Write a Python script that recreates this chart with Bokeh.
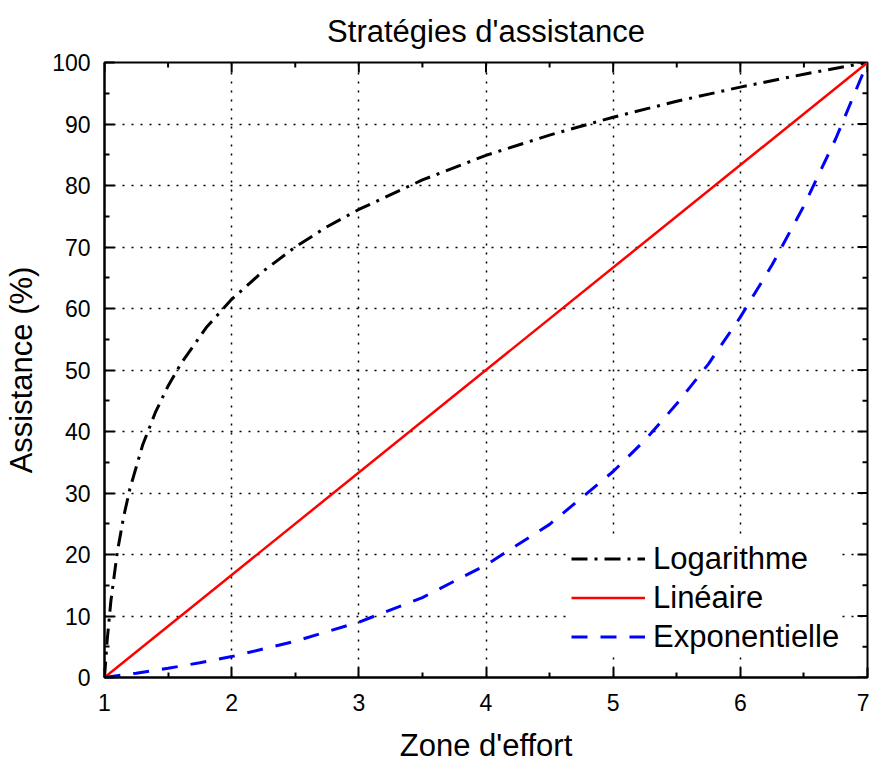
import math
from bokeh.plotting import figure
from bokeh.models import Range1d, FixedTicker, Legend, LegendItem
from bokeh.embed import file_html
from bokeh.resources import INLINE

# Data
log_x = [1.0, 1.02, 1.05, 1.1, 1.15, 1.2, 1.3, 1.4, 1.5, 1.6, 1.8, 2.0, 2.25, 2.5, 2.75,
         3.0, 3.5, 4.0, 4.5, 5.0, 5.5, 6.0, 6.5, 7.0]
log_y = [0.0, 5.8, 12.4, 20.3, 26.1, 30.7, 37.8, 43.1, 47.4, 51.0, 56.9, 61.5, 66.1, 70.0, 73.3,
         76.1, 80.9, 84.9, 88.2, 91.1, 93.7, 96.0, 98.1, 100.0]
lin_x = [1.0, 7.0]
lin_y = [0.0, 100.0]
exp_x = [1.0, 1.25, 1.5, 1.75, 2.0, 2.5, 3.0, 3.5, 4.0, 4.5, 5.0, 5.25, 5.5, 5.75, 6.0, 6.25, 6.5, 6.75, 7.0]
exp_y = [0.0, 0.7, 1.5, 2.4, 3.4, 5.9, 9.0, 13.0, 18.3, 24.9, 33.5, 38.6, 44.5, 51.0, 58.6, 67.1, 76.7, 87.6, 100.0]

x_ticks = [1, 2, 3, 4, 5, 6, 7]
x_minor = [1.5, 2.5, 3.5, 4.5, 5.5, 6.5]
y_ticks = [0, 10, 20, 30, 40, 50, 60, 70, 80, 90, 100]
y_minor = [5, 15, 25, 35, 45, 55, 65, 75, 85, 95]

title_txt = "Stratégies d'assistance"
x_title = "Zone d'effort"
y_title = "Assistance (%)"
labels = ["Logarithme", "Linéaire", "Exponentielle"]

FONT = "Liberation Sans"
BIG = "31px"

x_lo, x_hi = x_ticks[0], x_ticks[-1]
y_lo, y_hi = y_ticks[0], y_ticks[-1]

p = figure(width=869, height=765, output_backend="svg", toolbar_location=None,
           x_range=Range1d(x_lo, x_hi), y_range=Range1d(y_lo, y_hi),
           min_border_left=104, min_border_right=2, min_border_top=62, min_border_bottom=86,
           title=title_txt)
p.title.align = "center"
p.title.vertical_align = "top"
p.title.text_font = FONT
p.title.text_font_size = BIG
p.title.text_font_style = "normal"
p.title.text_color = "black"
p.title.standoff = 23
p.outline_line_color = "black"
p.outline_line_width = 2
p.outline_line_alpha = 1

def style_axis(ax, ticks, minor):
    ax.ticker = FixedTicker(ticks=ticks, minor_ticks=minor)
    ax.axis_line_width = 2
    ax.axis_line_color = "black"
    ax.major_tick_in = 10
    ax.major_tick_out = 0
    ax.minor_tick_in = 5
    ax.minor_tick_out = 0
    ax.major_tick_line_width = 2
    ax.minor_tick_line_width = 2
    ax.major_tick_line_color = "black"
    ax.minor_tick_line_color = "black"
    ax.major_label_text_font = FONT
    ax.axis_label_text_font = FONT
    ax.axis_label_text_font_style = "normal"
    ax.major_label_text_font_size = "23px"
    ax.major_label_text_color = "black"
    ax.axis_label_text_font_size = BIG
    ax.axis_label_text_color = "black"

style_axis(p.xaxis[0], x_ticks, x_minor)
style_axis(p.yaxis[0], y_ticks, y_minor)
p.xaxis[0].axis_label = x_title
p.yaxis[0].axis_label = y_title
p.xaxis[0].major_label_standoff = 16
p.xaxis[0].axis_label_standoff = 14
p.yaxis[0].major_label_standoff = 14
p.yaxis[0].axis_label_standoff = 10

for g in (p.xgrid[0], p.ygrid[0]):
    g.grid_line_color = "black"
    g.grid_line_dash = "2 7"
    g.grid_line_width = 1.5
p.xgrid[0].ticker = FixedTicker(ticks=x_ticks)
p.ygrid[0].ticker = FixedTicker(ticks=y_ticks)

# inward ticks on the top and right edges of the box (half of each mark is clipped)
p.scatter(x_ticks, [y_hi] * len(x_ticks), marker="dash", size=20, angle=math.pi / 2,
          line_color="black", line_width=2)
p.scatter(x_minor, [y_hi] * len(x_minor), marker="dash", size=10, angle=math.pi / 2,
          line_color="black", line_width=2)
p.scatter([x_hi] * len(y_ticks), y_ticks, marker="dash", size=20,
          line_color="black", line_width=2)
p.scatter([x_hi] * len(y_minor), y_minor, marker="dash", size=10,
          line_color="black", line_width=2)

r_log = p.line(log_x, log_y, line_color="black", line_width=3, line_dash="16 7 3 7")
r_lin = p.line(lin_x, lin_y, line_color="red", line_width=2.5)
r_exp = p.line(exp_x, exp_y, line_color="blue", line_width=3, line_dash="16 13")

legend = Legend(items=[LegendItem(label=labels[0], renderers=[r_log]),
                       LegendItem(label=labels[1], renderers=[r_lin]),
                       LegendItem(label=labels[2], renderers=[r_exp])],
                location=(467, 21))
legend.label_text_font = FONT
legend.label_text_font_size = BIG
legend.label_text_color = "black"
legend.border_line_color = None
legend.background_fill_color = "white"
legend.background_fill_alpha = 1
legend.padding = 0
legend.margin = 0
legend.spacing = 0
legend.glyph_width = 74
legend.glyph_height = 39
legend.label_height = 39
legend.label_standoff = 8
p.add_layout(legend, "center")

open("out.html", "w").write(file_html(p, INLINE))
